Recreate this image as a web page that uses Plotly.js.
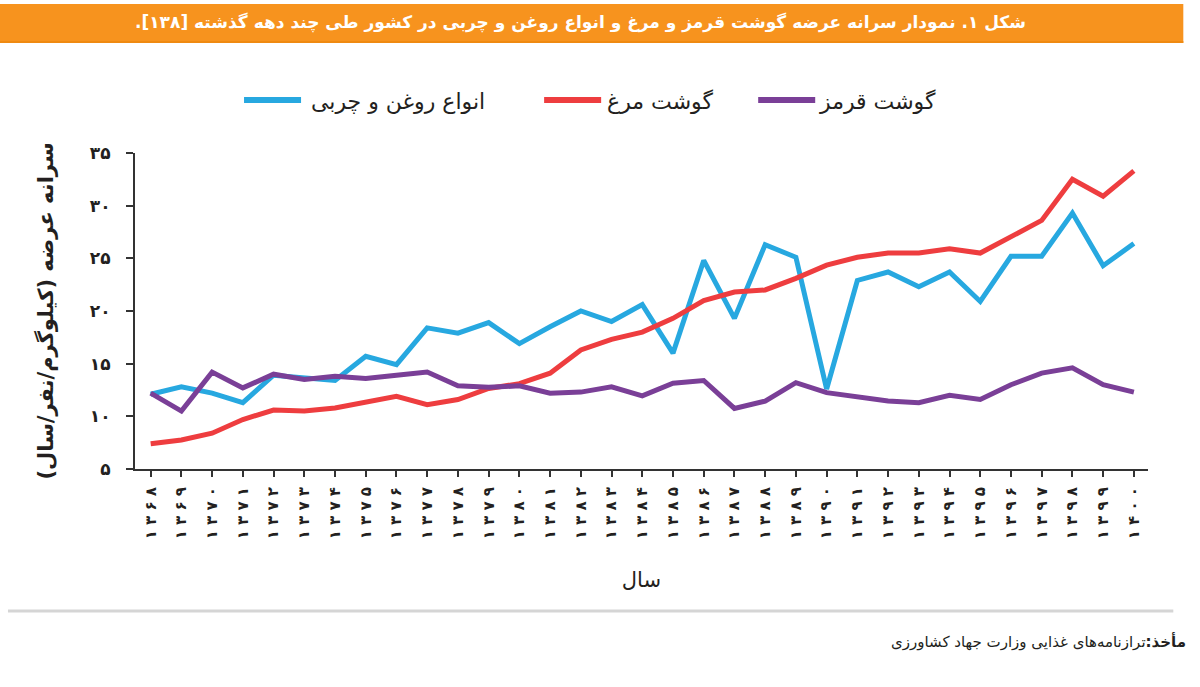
<!DOCTYPE html>
<html>
<head>
<meta charset="utf-8">
<script src="https://cdn.plot.ly/plotly-3.0.1.min.js"></script>
<style>
  html, body { margin: 0; padding: 0; background: #ffffff; }
  #chart { width: 1200px; height: 687px; }
</style>
</head>
<body>
<div id="chart"></div>
<script>
// ---------- data ----------
const years = [1368,1369,1370,1371,1372,1373,1374,1375,1376,1377,1378,1379,1380,1381,1382,1383,1384,1385,1386,1387,1388,1389,1390,1391,1392,1393,1394,1395,1396,1397,1398,1399,1400];

// oils and fats (blue)
const oilsFats = [12.1,12.8,12.2,11.3,13.9,13.7,13.4,15.7,14.9,18.4,17.9,18.9,16.9,18.5,20.0,19.0,20.6,16.0,24.8,19.3,26.3,25.1,12.6,22.9,23.7,22.3,23.7,20.9,25.2,25.2,29.3,24.3,26.4];
// poultry (red)
const poultry = [7.4,7.75,8.4,9.7,10.6,10.5,10.8,11.3,11.9,11.1,11.6,12.65,13.1,14.1,16.3,17.3,18.0,19.3,21.0,21.8,22.0,23.1,24.35,25.1,25.5,25.5,25.9,25.5,27.0,28.6,32.5,30.9,33.3];
// red meat (purple)
const redMeat = [12.2,10.5,14.2,12.7,14.0,13.5,13.8,13.6,13.9,14.2,12.9,12.75,12.9,12.2,12.3,12.8,11.95,13.15,13.4,10.75,11.45,13.2,12.25,11.9,11.45,11.3,12.0,11.6,13.0,14.1,14.6,13.0,12.3];

const seriesNames = ['انواع روغن و چربی', 'گوشت مرغ', 'گوشت قرمز'];
const seriesColors = ['#27a8e0', '#ee3d3f', '#7a3f97'];

const yTickVals = [5,10,15,20,25,30,35];
const titleText = 'شکل ۱. نمودار سرانه عرضه گوشت قرمز و مرغ و انواع روغن و چربی در کشور طی چند دهه گذشته [۱۳۸].';
const yTitleText = 'سرانه عرضه (کیلوگرم/نفر/سال)';
const xTitleText = 'سال';
const sourceLabel = 'مأخذ:';
const sourceText = 'ترازنامه‌های غذایی وزارت جهاد کشاورزی';

// ---------- helpers ----------
const faDigits = ['۰','۱','۲','۳','۴','۵','۶','۷','۸','۹'];
function toFa(n) { return String(n).split('').map(c => /\d/.test(c) ? faDigits[+c] : c).join(''); }
const RLM = '\u200F';
function rtl(s) { return RLM + s + RLM; }

const yearLabels = years.map(y => toFa(y).split('').join(' '));
const yTickText = yTickVals.map(v => toFa(v));

const FONT = 'DejaVu Sans, Noto Sans, sans-serif';
const INK = '#231f20';

const seriesData = [oilsFats, poultry, redMeat];
const traces = seriesData.map((vals, i) => ({
  type: 'scatter',
  mode: 'lines',
  x: years,
  y: vals,
  name: seriesNames[i],
  line: { color: seriesColors[i], width: 5, shape: 'linear' },
  showlegend: false,
  hovertemplate: '%{x}: %{y}<extra>' + seriesNames[i] + '</extra>'
}));

// plot area geometry: l=135, r=52, t=153, b=218
const W = 1200 - 135 - 52.3, H = 316;
const px = x => (x - 135) / W;
const py = y => (469 - y) / H;

// legend positions (paper)
const legendItems = [
  { line: [244, 301], textX: 309 },
  { line: [544, 601], textX: 605 },
  { line: [758, 815], textX: 817 }
];
const legendY = 100;

const shapes = [
  // header bar
  { type: 'rect', xref: 'paper', yref: 'paper', x0: px(0), x1: px(1183), y0: py(43), y1: py(4),
    fillcolor: '#f7931e', line: { width: 0 }, layer: 'below' },
  { type: 'line', xref: 'paper', yref: 'paper', x0: px(0), x1: px(1183), y0: py(42), y1: py(42),
    line: { color: '#ef8a12', width: 2 } },
  // separator
  { type: 'line', xref: 'paper', yref: 'paper', x0: px(8), x1: px(1173), y0: py(611), y1: py(611),
    line: { color: '#d5d5d5', width: 3 } }
];
legendItems.forEach((it, i) => {
  shapes.push({ type: 'line', xref: 'paper', yref: 'paper', x0: px(it.line[0]), x1: px(it.line[1]),
    y0: py(legendY), y1: py(legendY), line: { color: seriesColors[i], width: 6 } });
});

const annotations = [
  { xref: 'paper', yref: 'paper', x: px(1028), y: py(22), xanchor: 'right', yanchor: 'middle',
    text: '<b>' + rtl(titleText) + '</b>', showarrow: false,
    font: { family: FONT, size: 17, color: '#ffffff' } },
  { xref: 'paper', yref: 'paper', x: px(1188), y: py(641), xanchor: 'right', yanchor: 'middle',
    text: rtl('<b>' + sourceLabel + '</b>' + sourceText), showarrow: false,
    font: { family: FONT, size: 15, color: INK } }
];
legendItems.forEach((it, i) => {
  annotations.push({ xref: 'paper', yref: 'paper', x: px(it.textX), y: py(legendY + 1),
    xanchor: 'left', yanchor: 'middle', text: seriesNames[i], showarrow: false,
    font: { family: FONT, size: 22, color: INK } });
});

const layout = {
  width: 1200, height: 687,
  margin: { l: 135, r: 52.3, t: 153, b: 218 },
  paper_bgcolor: '#ffffff', plot_bgcolor: '#ffffff',
  showlegend: false,
  font: { family: FONT, color: INK },
  xaxis: {
    type: 'linear',
    range: [1367.49, 1400.46],
    tickmode: 'array', tickvals: years, ticktext: yearLabels,
    tickangle: -90,
    ticks: 'outside', ticklen: 6, tickwidth: 2, tickcolor: '#333333',
    showline: true, linecolor: '#333333', linewidth: 2,
    showgrid: false, zeroline: false,
    tickfont: { family: FONT, size: 15, color: INK, weight: 'bold' },
    ticklabelstandoff: 4,
    title: { text: xTitleText, font: { family: FONT, size: 21, color: INK }, standoff: 34 },
    automargin: false
  },
  yaxis: {
    range: [5, 35],
    tickmode: 'array', tickvals: yTickVals, ticktext: yTickText,
    ticks: 'outside', ticklen: 7, tickwidth: 2, tickcolor: '#333333',
    showline: true, linecolor: '#333333', linewidth: 2,
    showgrid: false, zeroline: false,
    tickfont: { family: FONT, size: 17, color: INK, weight: 'bold' },
    ticklabelstandoff: 12,
    title: { text: rtl(yTitleText), font: { family: FONT, size: 21, color: INK, weight: 'bold' }, standoff: 30 },
    automargin: false
  },
  shapes: shapes,
  annotations: annotations
};

Plotly.newPlot('chart', traces, layout, { displayModeBar: false, responsive: false });
</script>
</body>
</html>
